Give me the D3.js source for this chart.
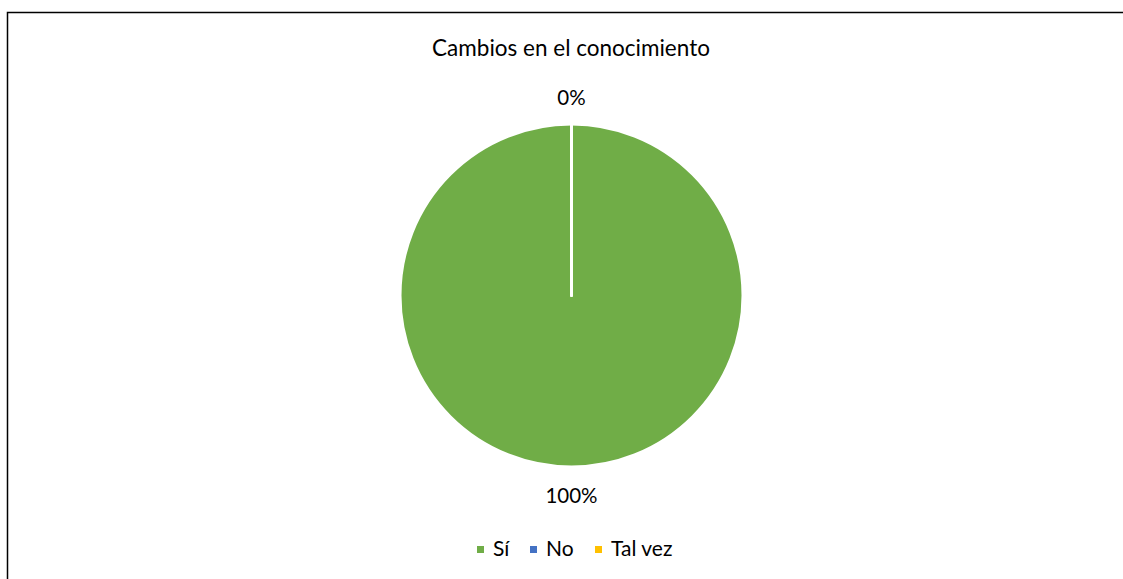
<!DOCTYPE html>
<html>
<head>
<meta charset="utf-8">
<script src="https://cdn.jsdelivr.net/npm/d3@7"></script>
<style>
  html, body { margin: 0; padding: 0; background: #fff; }
  svg { display: block; font-family: Lato, "Open Sans", sans-serif; }
</style>
</head>
<body>
<svg id="chart" width="1123" height="579"></svg>
<script>
const title = "Cambios en el conocimiento";
const categories = ["Sí", "No", "Tal vez"];
const values = [100, 0, 0];
const colors = ["#70AD47", "#4472C4", "#FFC000"];

const W = 1123, H = 579;
const svg = d3.select("#chart");

// outer frame
svg.append("rect")
  .attr("x", 7.5).attr("y", 12.5)
  .attr("width", 1120).attr("height", 620)
  .attr("fill", "none").attr("stroke", "#000").attr("stroke-width", 1.5);

svg.append("text")
  .attr("x", 571).attr("y", 55.5)
  .attr("text-anchor", "middle")
  .attr("font-size", 22.5).attr("fill", "#000")
  .text(title);

const cx = 571.5, cy = 295.5, r = 171.5;
const total = d3.sum(values);
const pie = d3.pie().sort(null).value(d => d)(values);
const arc = d3.arc().innerRadius(0).outerRadius(r);
const color = d3.scaleOrdinal().domain(categories).range(colors);

const g = svg.append("g").attr("transform", `translate(${cx},${cy})`);
g.selectAll("path.slice")
  .data(pie)
  .join("path")
  .attr("class", "slice")
  .attr("d", arc)
  .attr("fill", (d, i) => color(categories[i]))
  .attr("stroke", "#fff")
  .attr("stroke-width", 3)
  .attr("stroke-linejoin", "round");

// data labels outside end
const labelR = 199;
const fmt = d => Math.round(d / total * 100) + "%";
const seen = new Set();
const labels = pie.filter(d => {
  const mid = ((d.startAngle + d.endAngle) / 2) % (2 * Math.PI);
  const key = mid.toFixed(3) + fmt(d.data);
  if (seen.has(key)) return false;
  seen.add(key);
  return true;
});
g.selectAll("text.lbl")
  .data(labels)
  .join("text")
  .attr("class", "lbl")
  .attr("x", d => labelR * Math.sin((d.startAngle + d.endAngle) / 2))
  .attr("y", d => -labelR * Math.cos((d.startAngle + d.endAngle) / 2))
  .attr("text-anchor", "middle")
  .attr("dominant-baseline", "central")
  .attr("font-size", 20.5).attr("fill", "#000")
  .text(d => fmt(d.data));

// legend
const legendX = [477, 530, 595];
const leg = svg.append("g");
categories.forEach((c, i) => {
  leg.append("rect")
    .attr("x", legendX[i]).attr("y", 546)
    .attr("width", 7).attr("height", 7)
    .attr("fill", color(c));
  leg.append("text")
    .attr("x", legendX[i] + 16).attr("y", 556)
    .attr("font-size", 21).attr("fill", "#000")
    .text(c);
});
</script>
</body>
</html>
